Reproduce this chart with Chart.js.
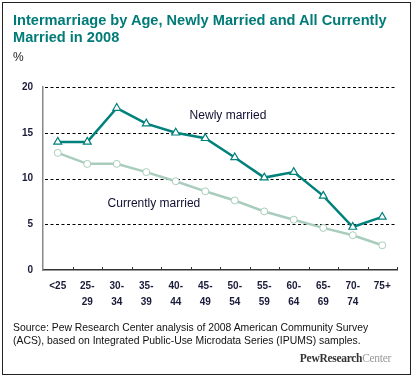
<!DOCTYPE html>
<html lang="en">
  <head>
    <meta charset="UTF-8" />
    <title>Intermarriage by Age</title>
    <style>
      body {
        margin: 0;
        padding: 0;
        background: #fff;
        font-family: "Liberation Sans", Arial, sans-serif;
      }
      .frame {
        position: absolute;
        left: 2px;
        top: 2px;
        width: 407px;
        height: 371px;
        border: 1px solid #222;
      }
      .title {
        position: absolute;
        left: 13px;
        top: 12px;
        font-size: 14.6px;
        font-weight: bold;
        line-height: 17px;
        color: #007b78;
      }
      .unit {
        position: absolute;
        left: 13px;
        top: 50px;
        font-size: 12px;
        color: #222;
      }
      .source {
        position: absolute;
        left: 13px;
        top: 321px;
        font-size: 10.4px;
        line-height: 13px;
        color: #111;
      }
      .logo {
        position: absolute;
        right: 23px;
        top: 352px;
        font-family: "Liberation Serif", serif;
        font-size: 11.5px;
        letter-spacing: -0.3px;
        color: #333;
      }
      .logo span {
        color: #999;
        font-weight: normal;
      }
      .chart-box {
        position: absolute;
        left: 0;
        top: 0;
        width: 414px;
        height: 378px;
      }
    </style>
  </head>
  <body>
    <div class="chart-box"><canvas id="chart"></canvas></div>
    <div class="frame"></div>
    <div class="title">Intermarriage by Age, Newly Married and All Currently<br>Married in 2008</div>
    <div class="unit">%</div>
    <div class="source">Source: Pew Research Center analysis of 2008 American Community Survey<br>(ACS), based on Integrated Public-Use Microdata Series (IPUMS) samples.</div>
    <div class="logo"><b>PewResearch</b><span>Center</span></div>

    <script src="https://cdn.jsdelivr.net/npm/chart.js"></script>
    <script>
      const ageGroups = [['<25'], ['25-', '29'], ['30-', '34'], ['35-', '39'], ['40-', '44'], ['45-', '49'],
                         ['50-', '54'], ['55-', '59'], ['60-', '64'], ['65-', '69'], ['70-', '74'], ['75+']];
      const newlyMarried = [14.0, 14.0, 17.7, 16.0, 15.0, 14.4, 12.3, 10.1, 10.7, 8.1, 4.7, 5.8];
      const currentlyMarried = [12.8, 11.6, 11.6, 10.7, 9.7, 8.6, 7.6, 6.4, 5.5, 4.6, 3.8, 2.7];
      const yTicks = [0, 5, 10, 15, 20];

      // series labels placed inside the plot (x = category index, y = value)
      const seriesLabels = [
        { text: 'Newly married', x: 5.77, y: 16.9 },
        { text: 'Currently married', x: 3.26, y: 7.2 }
      ];

      const teal = '#00817c';
      const sage = '#a9cdbd';

      // dashed horizontal grid, drawn under the lines
      const dashedGrid = {
        id: 'dashedGrid',
        beforeDatasetsDraw(chart) {
          const { ctx, scales: { x, y } } = chart;
          ctx.save();
          ctx.strokeStyle = '#000';
          ctx.lineWidth = 1;
          ctx.setLineDash([3, 2.5]);
          yTicks.filter(v => v > 0).forEach(v => {
            const py = Math.round(y.getPixelForValue(v)) + 0.5;
            ctx.beginPath();
            ctx.moveTo(x.left + 2, py);
            ctx.lineTo(x.right, py);
            ctx.stroke();
          });
          ctx.restore();
        }
      };

      const extras = {
        id: 'extras',
        afterDraw(chart) {
          const { ctx, scales: { x, y } } = chart;
          ctx.save();
          // little tick marks on the baseline, between categories
          ctx.strokeStyle = '#333';
          ctx.lineWidth = 1;
          const step = (x.right - x.left) / ageGroups.length;
          for (let i = 1; i <= ageGroups.length; i++) {
            const px = Math.round(x.left + i * step) + 0.5;
            ctx.beginPath();
            ctx.moveTo(px, y.bottom);
            ctx.lineTo(px, y.bottom - 3);
            ctx.stroke();
          }
          ctx.font = '12px "Liberation Sans", Arial, sans-serif';
          ctx.fillStyle = '#111133';
          ctx.textAlign = 'center';
          ctx.textBaseline = 'middle';
          seriesLabels.forEach(l => {
            ctx.fillText(l.text, x.getPixelForValue(l.x), y.getPixelForValue(l.y));
          });
          ctx.restore();
        }
      };

      new Chart(document.getElementById('chart'), {
        type: 'line',
        data: {
          labels: ageGroups,
          datasets: [
            {
              label: 'Currently married',
              data: currentlyMarried,
              borderColor: sage,
              borderWidth: 2.5,
              pointStyle: 'circle',
              pointRadius: 3.5,
              pointBorderWidth: 1,
              pointBackgroundColor: '#fff',
              pointBorderColor: sage,
              tension: 0
            },
            {
              label: 'Newly married',
              data: newlyMarried,
              borderColor: teal,
              borderWidth: 2.5,
              pointStyle: 'triangle',
              pointRadius: 4.5,
              pointBorderWidth: 1.2,
              pointBackgroundColor: '#fff',
              pointBorderColor: teal,
              tension: 0
            }
          ]
        },
        options: {
          responsive: true,
          maintainAspectRatio: false,
          animation: false,
          layout: { padding: { left: 0, right: 17, top: 87, bottom: 55 } },
          plugins: { legend: { display: false }, tooltip: { enabled: false } },
          scales: {
            x: {
              offset: true,
              grid: { display: false, drawTicks: false },
              border: { display: true, color: '#333', width: 1.5 },
              ticks: {
                padding: 8,
                maxRotation: 0,
                autoSkip: false,
                color: '#1a1a3a',
                font: { family: '"Liberation Sans", Arial, sans-serif', size: 10, weight: 'bold', lineHeight: 1.6 }
              },
              afterFit(scale) { scale.height = 53; }
            },
            y: {
              min: 0,
              max: 20,
              afterBuildTicks(scale) { scale.ticks = yTicks.map(v => ({ value: v })); },
              grid: { drawOnChartArea: false, drawTicks: false },
              border: { display: true, color: '#888', width: 1.5 },
              ticks: {
                padding: 10,
                color: '#1a1a3a',
                font: { family: '"Liberation Sans", Arial, sans-serif', size: 10, weight: 'bold' }
              },
              afterFit(scale) { scale.width = 43; }
            }
          }
        },
        plugins: [dashedGrid, extras]
      });
    </script>
  </body>
</html>
